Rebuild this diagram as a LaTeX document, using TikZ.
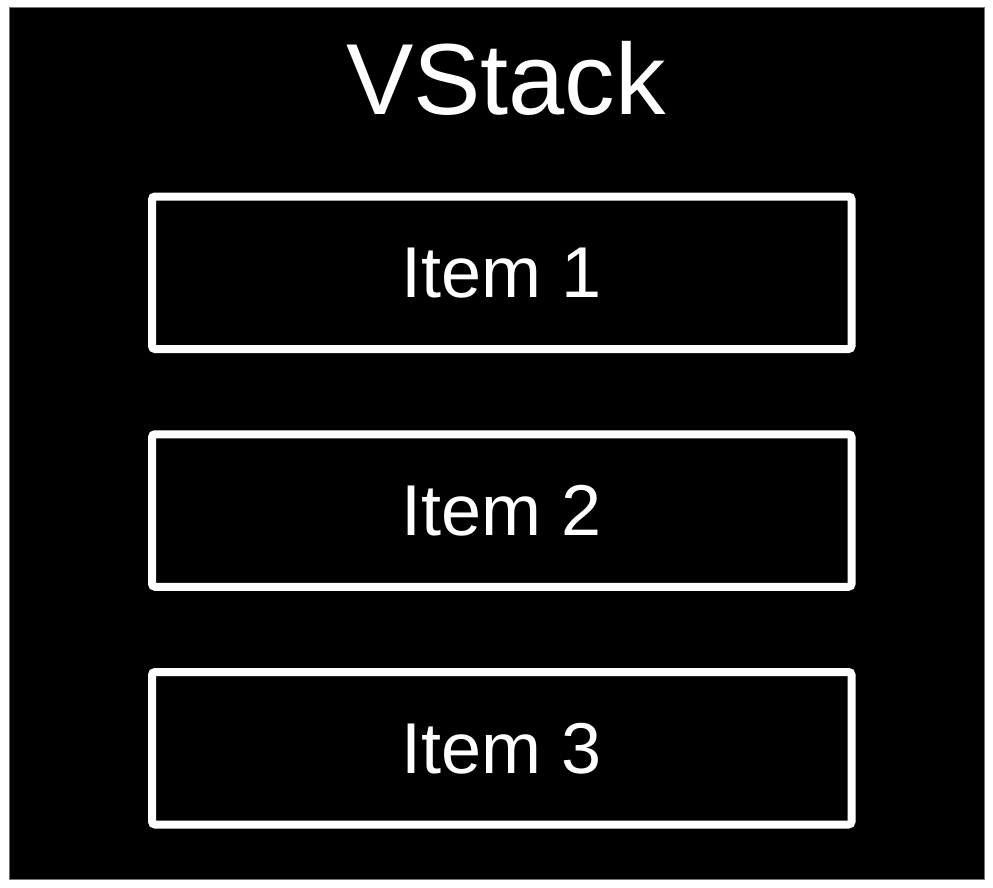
\documentclass[tikz,border=0pt]{standalone}
\usepackage{fontspec}
\setmainfont{Liberation Sans}
\begin{document}
\begin{tikzpicture}[x=1pt,y=-1pt,
  itembox/.style={draw=white,line width=8pt,rounded corners=3pt,fill=black,
    minimum width=699.5pt,minimum height=152.5pt,inner sep=0pt,text=white,
    font=\fontsize{72}{80}\selectfont},
  titletext/.style={text=white,inner sep=0pt,anchor=base,font=\fontsize{101}{110}\selectfont}]
\useasboundingbox[fill=white] (0,0) rectangle (993,888);
\draw[fill=black,draw=black!55,line width=1pt] (9,8) rectangle (984,879);
\node[titletext] (title) at (506,115) {VStack};
\node[itembox] (item1) at (501.75,272.75) {Item 1};
\node[itembox] (item2) at (501.75,510.5) {Item 2};
\node[itembox] (item3) at (501.75,748.25) {Item 3};
\end{tikzpicture}
\end{document}
